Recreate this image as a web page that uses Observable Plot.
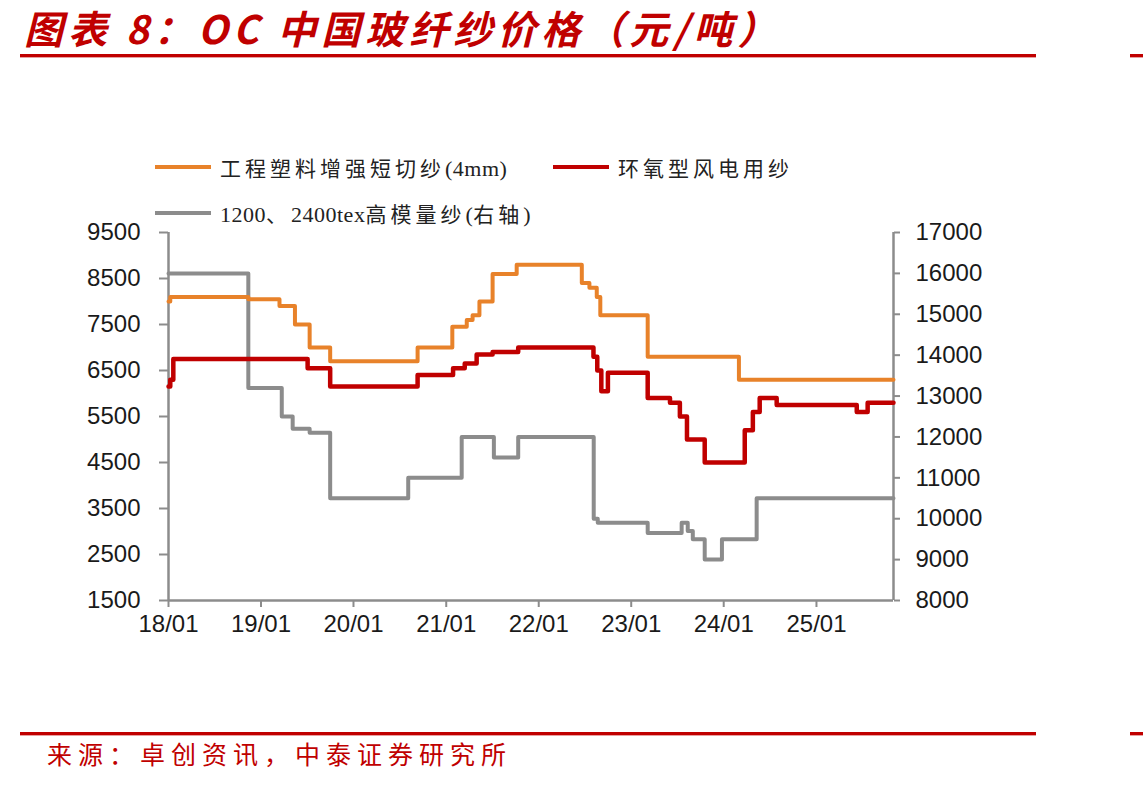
<!DOCTYPE html>
<html>
<head>
<meta charset="utf-8">
<script src="https://cdn.jsdelivr.net/npm/d3@7"></script>
<script src="https://cdn.jsdelivr.net/npm/@observablehq/plot@0.6"></script>
<style>
  html, body { margin: 0; padding: 0; background: #fff; }
  #page { position: relative; width: 1143px; height: 785px; overflow: hidden; background: #fff; }
  #chart { position: absolute; left: 0; top: 0; }
  .title { position: absolute; left: 24px; top: 5px; font-family: "Noto Sans CJK SC", sans-serif; font-size: 39px; line-height: 44px;
           font-weight: 700; font-style: italic; color: #C00000; letter-spacing: 5px; white-space: nowrap; }
  .rule { position: absolute; height: 3px; background: #C00000; box-shadow: 0 1px 0 #e8a0a0; }
  .source { position: absolute; left: 47px; top: 737px; font-family: "Noto Sans CJK SC", sans-serif; font-size: 25px; line-height: 32px;
            color: #C00000; letter-spacing: 6px; white-space: nowrap; }
  .legend-item { position: absolute; display: flex; align-items: center; font-family: "Liberation Serif", "Noto Sans CJK SC", serif;
                 font-size: 21px; color: #222; letter-spacing: 4px; white-space: nowrap; }
  .legend-item .latin { font-size: 22px; letter-spacing: 0.5px; }
  .swatch { display: inline-block; width: 56px; height: 4px; margin-right: 9px; }
</style>
</head>
<body>
<div id="page">
  <div class="title">图表 8：OC 中国玻纤纱价格（元/吨）</div>
  <div class="rule" style="left:20px; top:54px; width:1016px;"></div>
  <div class="rule" style="left:1130px; top:54px; width:13px;"></div>
  <div id="chart"></div>
  <div id="legend"></div>
  <div class="rule" style="left:20px; top:732px; width:1016px;"></div>
  <div class="rule" style="left:1130px; top:732px; width:13px;"></div>
  <div class="source">来源：卓创资讯，中泰证券研究所</div>
</div>
<script>
// Series names and colours
const seriesNames = ["工程塑料增强短切纱(4mm)", "环氧型风电用纱", "1200、2400tex高模量纱(右轴)"];
const seriesColors = ["#E8822A", "#C00000", "#8C8C8C"];

// 工程塑料增强短切纱(4mm), 元/吨 (left axis)
const chopDates = ["2018-01-01","2018-01-08","2018-11-12","2019-03-15","2019-05-15","2019-07-12","2019-10-01","2020-09-10",
  "2021-01-25","2021-03-23","2021-04-15","2021-05-12","2021-07-03","2021-10-06","2022-06-20","2022-07-20","2022-08-18",
  "2022-09-01","2023-03-07","2024-03-01","2025-11-01"];
const chopValues = [8000,8100,8050,7900,7500,7000,6700,7000,
  7450,7600,7700,8000,8600,8800,8400,8300,8100,
  7700,6800,6300,6300];

// 环氧型风电用纱, 元/吨 (left axis)
const windDates = ["2018-01-01","2018-01-08","2018-01-20","2019-07-04","2019-10-01","2020-09-10","2021-01-28","2021-03-15",
  "2021-05-01","2021-07-03","2021-10-12","2022-08-05","2022-08-20","2022-09-05","2022-10-01","2023-03-07","2023-06-03",
  "2023-07-12","2023-08-09","2023-10-18","2024-03-24","2024-04-25","2024-05-22","2024-07-28","2025-06-09","2025-07-22","2025-11-01"];
const windValues = [6150,6300,6750,6550,6150,6400,6550,6650,
  6850,6900,7000,6800,6500,6050,6450,5900,5800,
  5500,5000,4500,5200,5600,5900,5750,5600,5800,5800];

// 1200、2400tex高模量纱, 元/吨 (right axis)
const hmDates = ["2018-01-01","2018-11-12","2019-03-24","2019-05-06","2019-07-12","2019-10-01","2020-08-04","2021-03-03",
  "2021-07-08","2021-10-12","2022-08-06","2022-08-22","2023-03-07","2023-07-19","2023-08-12","2023-09-01","2023-10-18",
  "2023-12-25","2024-05-10","2025-11-01"];
const hmValues = [16000,13200,12500,12200,12100,10500,11000,12000,
  11500,12000,10000,9900,9650,9900,9700,9500,9000,
  9500,10500,10500];

// Axis ticks
const leftTicks = [1500,2500,3500,4500,5500,6500,7500,8500,9500];
const rightTicks = [8000,9000,10000,11000,12000,13000,14000,15000,16000,17000];
const xStart = "2018-01-01", xEnd = "2025-11-01";

// Right-axis values are mapped onto the left-axis scale
const leftDomain = [1500, 9500], rightDomain = [8000, 17000];
const toLeft = v => leftDomain[0] + (v - rightDomain[0]) * (leftDomain[1] - leftDomain[0]) / (rightDomain[1] - rightDomain[0]);
const fromLeft = v => rightDomain[0] + (v - leftDomain[0]) * (rightDomain[1] - rightDomain[0]) / (leftDomain[1] - leftDomain[0]);

const parse = d3.utcParse("%Y-%m-%d");
const rows = [];
chopDates.forEach((d, i) => rows.push({series: seriesNames[0], date: parse(d), value: chopValues[i]}));
windDates.forEach((d, i) => rows.push({series: seriesNames[1], date: parse(d), value: windValues[i]}));
hmDates.forEach((d, i) => rows.push({series: seriesNames[2], date: parse(d), value: toLeft(hmValues[i])}));

const axisColor = "#8C8C8C";
const x0 = parse(xStart), x1 = parse(xEnd);

const chart = Plot.plot({
  width: 1143,
  height: 785,
  marginLeft: 168,
  marginRight: 250,
  marginTop: 232,
  marginBottom: 185,
  style: {fontFamily: "'Liberation Sans', Arial, sans-serif", fontSize: "24px", color: "#1a1a1a", background: "transparent"},
  x: {type: "utc", domain: [x0, x1]},
  y: {domain: leftDomain},
  color: {domain: seriesNames, range: seriesColors},
  marks: [
    Plot.axisY({ticks: leftTicks, tickSize: 9, tickPadding: 19, tickFormat: d => String(d), label: null, stroke: axisColor, strokeWidth: 2}),
    Plot.axisY({anchor: "right", ticks: rightTicks.map(toLeft), tickSize: 6, tickPadding: 16,
                tickFormat: v => String(Math.round(fromLeft(v))), label: null, stroke: axisColor, strokeWidth: 2}),
    Plot.axisX({ticks: d3.utcYear.every(1), tickSize: 7, tickPadding: 7, tickFormat: d3.utcFormat("%y/%m"), label: null, stroke: axisColor, strokeWidth: 2}),
    Plot.ruleX([x0, x1], {stroke: axisColor, strokeWidth: 2.5}),
    Plot.ruleY([leftDomain[0]], {stroke: axisColor, strokeWidth: 2.5}),
    Plot.line(rows.filter(r => r.series === seriesNames[2]), {x: "date", y: "value", stroke: "series", strokeWidth: 4, curve: "step-after"}),
    Plot.line(rows.filter(r => r.series === seriesNames[0]), {x: "date", y: "value", stroke: "series", strokeWidth: 4, curve: "step-after"}),
    Plot.line(rows.filter(r => r.series === seriesNames[1]), {x: "date", y: "value", stroke: "series", strokeWidth: 4.5, curve: "step-after"})
  ]
});
document.getElementById("chart").appendChild(chart);

// Legend: swatch plus label; Latin runs get tighter spacing than CJK text
const legendPos = [{left: 155, top: 152}, {left: 553, top: 152}, {left: 155, top: 198}];
const legend = document.getElementById("legend");
seriesNames.forEach((name, i) => {
  const item = document.createElement("div");
  item.className = "legend-item";
  item.style.left = legendPos[i].left + "px";
  item.style.top = legendPos[i].top + "px";
  const sw = document.createElement("span");
  sw.className = "swatch";
  sw.style.background = seriesColors[i];
  item.appendChild(sw);
  const label = document.createElement("span");
  name.split(/([\x20-\x7e]+)/).filter(s => s.length).forEach(part => {
    const span = document.createElement("span");
    if (/^[\x20-\x7e]+$/.test(part)) span.className = "latin";
    span.textContent = part;
    label.appendChild(span);
  });
  item.appendChild(label);
  legend.appendChild(item);
});
</script>
</body>
</html>
